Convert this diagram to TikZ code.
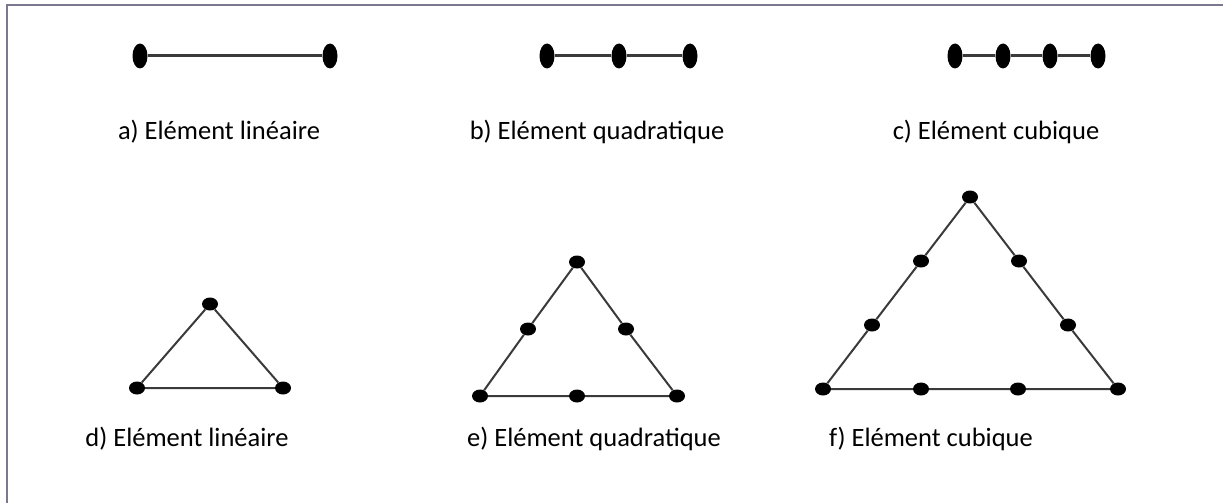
\documentclass[tikz,border=0pt]{standalone}
\usepackage{fontspec}
\setmainfont{Carlito}
\usepackage{tikz}
\usetikzlibrary{positioning, shapes.geometric}
\definecolor{rahmen}{HTML}{7D7890}
\definecolor{kante}{HTML}{3A3A3A}

\begin{document}
\begin{tikzpicture}[
    x=1pt, y=-1pt,
    knoten/.style={draw=none, fill=black, ellipse, inner sep=0pt, minimum width=15pt, minimum height=25pt},
    punkt/.style={draw=none, fill=black, ellipse, inner sep=0pt, minimum width=16pt, minimum height=13pt},
    stab/.style={draw=kante, line width=3pt},
    seite/.style={draw=kante, line width=2pt},
    beschriftung/.style={font=\fontsize{26.5}{30}\selectfont, anchor=base}
]
\useasboundingbox (0,0) rectangle (1223,503);

% --- RAHMEN ---
\draw[rahmen, line width=2pt] (7,510) -- (7,5) -- (1230,5);

% --- KNOTEN: 1D-Elemente ---
\node[knoten] (a1) at (140,56) {};
\node[knoten] (a2) at (330,56) {};

\node[knoten] (b1) at (547,56) {};
\node[knoten] (b2) at (619,56) {};
\node[knoten] (b3) at (690,56) {};

\node[knoten] (c1) at (955,56) {};
\node[knoten] (c2) at (1003,56) {};
\node[knoten] (c3) at (1050,56) {};
\node[knoten] (c4) at (1098,56) {};

% --- KANTEN: 1D-Elemente ---
\draw[stab] (a1) -- (a2);
\draw[stab] (b1) -- (b2) -- (b3);
\draw[stab] (c1) -- (c2) -- (c3) -- (c4);

% --- KNOTEN: Dreiecke ---
% d) linear
\node[punkt] (d1) at (137,388) {};
\node[punkt] (d2) at (283,388) {};
\node[punkt] (d3) at (210,304) {};

% e) quadratisch
\node[punkt] (e1) at (480,396) {};
\node[punkt] (e2) at (577,396) {};
\node[punkt] (e3) at (677,396) {};
\node[punkt] (e4) at (626,329) {};
\node[punkt] (e5) at (577,262) {};
\node[punkt] (e6) at (528,329) {};

% f) kubisch
\node[punkt] (f1) at (823,389) {};
\node[punkt] (f2) at (921,389) {};
\node[punkt] (f3) at (1018,389) {};
\node[punkt] (f4) at (1118,389) {};
\node[punkt] (f5) at (1068,325) {};
\node[punkt] (f6) at (1019,261) {};
\node[punkt] (f7) at (970,197) {};
\node[punkt] (f8) at (921,261) {};
\node[punkt] (f9) at (872,325) {};

% --- KANTEN: Dreiecke ---
\draw[seite] (d1) -- (d2) -- (d3) -- (d1);
\draw[seite] (e1) -- (e2) -- (e3) -- (e4) -- (e5) -- (e6) -- (e1);
\draw[seite] (f1) -- (f2) -- (f3) -- (f4) -- (f5) -- (f6) -- (f7) -- (f8) -- (f9) -- (f1);

% --- BESCHRIFTUNGEN ---
\node[beschriftung] (la) at (219,139) {a) Elément linéaire};
\node[beschriftung] (lb) at (597,139) {b) Elément quadratique};
\node[beschriftung] (lc) at (996,139) {c) Elément cubique};
\node[beschriftung] (ld) at (187,446) {d) Elément linéaire};
\node[beschriftung] (le) at (594,446) {e) Elément quadratique};
\node[beschriftung] (lf) at (931,446) {f) Elément cubique};

\end{tikzpicture}
\end{document}
